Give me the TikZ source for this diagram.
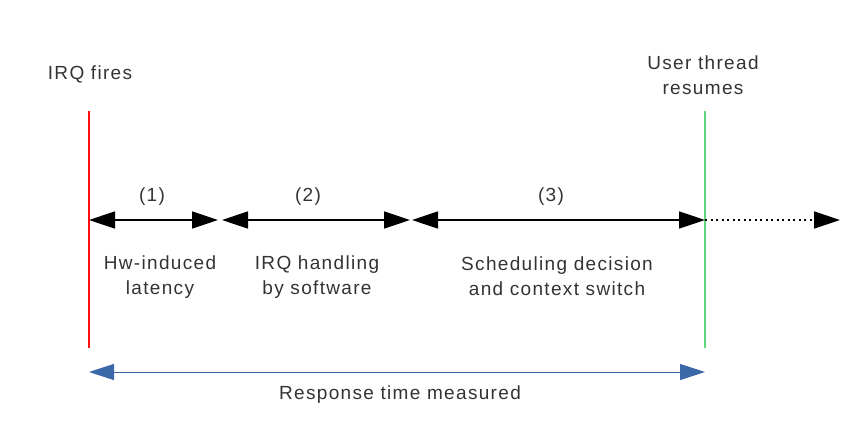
\documentclass[tikz,border=0pt]{standalone}
\usepackage{fontspec}
\setmainfont[LetterSpace=7]{Liberation Sans}
\usetikzlibrary{arrows.meta}
\definecolor{txt}{HTML}{333333}
\definecolor{irqred}{HTML}{FF1010}
\definecolor{resgreen}{HTML}{5CD97C}
\definecolor{respblue}{HTML}{3A68A8}
\tikzset{
  lbl/.style={text=txt, font=\fontsize{19}{25}\selectfont, align=center, inner sep=0pt},
  seg/.style={black, line width=1.5pt, {Triangle[length=26pt,width=17pt]}-{Triangle[length=26pt,width=17pt]}},
  marker/.style={line width=2pt},
}
\begin{document}
\begin{tikzpicture}[x=1pt,y=-1pt]
\useasboundingbox (0,0) rectangle (867,429);
% coordinates
\coordinate (rtop) at (89,111);
\coordinate (rbot) at (89,348);
\coordinate (gtop) at (705,111);
\coordinate (gbot) at (705,348);
\coordinate (a0) at (89,220);
\coordinate (a1) at (218,220);
\coordinate (b0) at (222,220);
\coordinate (b1) at (410,220);
\coordinate (c0) at (412,220);
\coordinate (c1) at (705,220);
\coordinate (d1) at (840,220);
\coordinate (m0) at (89,372);
\coordinate (m1) at (705,372);
% vertical markers
\draw[marker, irqred] (rtop) -- (rbot);
\draw[marker, resgreen] (gtop) -- (gbot);
% phase arrows
\draw[seg] (a0) -- (a1);
\draw[seg] (b0) -- (b1);
\draw[seg] (c0) -- (c1);
\draw[black, line width=1.5pt, dash pattern=on 2pt off 3.5pt, -{Triangle[length=26pt,width=17pt]}] (c1) -- (d1);
% measured
\draw[respblue, line width=1pt, {Triangle[length=25pt,width=16pt]}-{Triangle[length=25pt,width=16pt]}] (m0) -- (m1);
% labels
\node[lbl] (irq) at (90,74) {IRQ fires};
\node[lbl] (usr) at (703,75) {User thread\\resumes};
\node[lbl] (n1) at (152,197) {(1)};
\node[lbl] (n2) at (308,197) {(2)};
\node[lbl] (n3) at (551,197) {(3)};
\node[lbl] (l1) at (160,277) {Hw-induced\\latency};
\node[lbl] (l2) at (317,277) {IRQ handling\\by software};
\node[lbl] (l3) at (557,276) {Scheduling decision\\and context switch};
\node[lbl] (resp) at (400,395) {Response time measured};
\end{tikzpicture}
\end{document}
